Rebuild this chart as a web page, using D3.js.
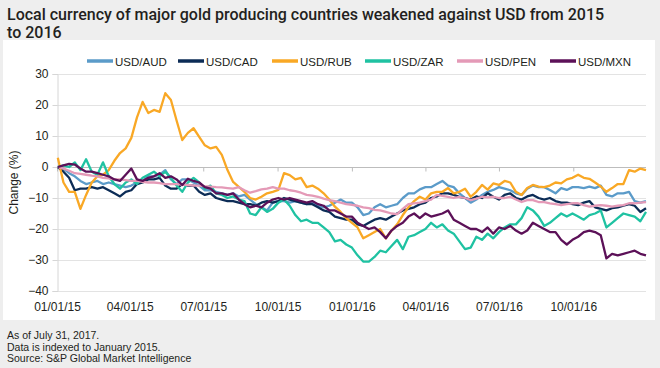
<!DOCTYPE html>
<html>
<head>
<meta charset="utf-8">
<script src="https://cdn.jsdelivr.net/npm/d3@7"></script>
<style>
  html, body { margin: 0; padding: 0; background: #eeeeee; }
  svg { display: block; }
</style>
</head>
<body>
<svg id="chart" width="660" height="368"></svg>
<script>
// ---------------- DATA ----------------
const title = ["Local currency of major gold producing countries weakened against USD from 2015", "to 2016"];
const yAxisTitle = "Change (%)";
const footnotes = ["As of July 31, 2017.", "Data is indexed to January 2015.", "Source: S&P Global Market Intelligence"];
const seriesNames = ["USD/AUD", "USD/CAD", "USD/RUB", "USD/ZAR", "USD/PEN", "USD/MXN"];
const seriesColors = ["#5b9bc9", "#0c2c56", "#f9a825", "#1fc2a2", "#e49ab7", "#5c1158"];
const yTicks = [30, 20, 10, 0, -10, -20, -30, -40];
const xTickDates = ["2015-01-01", "2015-04-01", "2015-07-01", "2015-10-01", "2016-01-01", "2016-04-01", "2016-07-01", "2016-10-01"];
const startDate = "2015-01-02";   // weekly observations
const endDate = "2016-12-30";

const usdAud = [0,-0.5,-2,-3,-4.5,-5.5,-5,-4.5,-5.5,-5,-5.5,-6,-6.5,-6,-5,-4.5,-3,-3,-2.5,-1,-4,-5.5,-4,-4,-5,-6,-7.5,-7.5,-8,-8.5,-9,-8.5,-9.5,-9,-10.5,-12,-13,-14,-11.5,-11,-11,-11.5,-11,-11.5,-12,-11.5,-12.5,-13,-12.5,-11.5,-10.5,-11.5,-11.5,-13,-15.5,-15,-13,-12,-13,-12.5,-12,-10,-8.5,-8.5,-7.2,-6.5,-6.5,-5.5,-4.5,-6,-6.5,-8.5,-10,-11.5,-10.5,-9,-8,-7.4,-6.5,-7,-7.5,-8.5,-9,-7,-6,-6.5,-6.5,-7.4,-8.5,-6.8,-7.4,-6.5,-6.5,-6.8,-6.3,-6.8,-6,-9,-9.5,-8.5,-8.5,-8,-11,-11.5,-11];
const usdCad = [0,-1.5,-3.5,-7.5,-7,-7,-6.5,-7,-6.5,-7.5,-8.5,-9.5,-8,-7.5,-5.5,-5,-4,-4,-3.5,-6,-7,-7,-5.5,-6,-6,-8,-9,-8.5,-10,-10.5,-11,-11,-11.5,-12,-12,-12.5,-11.5,-11,-11.5,-11,-10,-10.5,-11,-11.5,-12,-12,-13,-14,-14.5,-16,-16.5,-17,-17,-18.5,-19,-18,-17,-16.5,-17,-16,-15,-14,-13.5,-13,-12,-11.5,-10,-9.5,-8.5,-8.5,-9,-9.6,-10,-10.5,-9.5,-10,-8.5,-9.6,-10.5,-9,-8.5,-10,-10.5,-9.5,-9,-10,-10.5,-10,-11,-11.5,-11.5,-12,-12.3,-11.5,-11,-13,-13.5,-14,-13.3,-13,-12.5,-12,-12.5,-14.5,-13.3];
const usdRub = [3,-5,-8,-8,-13.5,-9,-5,-3,-2.5,-1,2,4.5,6,9.4,16,21,17.4,18.4,17.8,23.8,21.6,15,8.7,11,12.5,9.7,7,6,6.5,3.9,-1,-4.8,-6.4,-8,-10,-10.5,-9.6,-8.5,-8,-7.4,-2,-2.6,-4,-3.5,-6.5,-6,-7,-8.5,-10.5,-12.8,-14.5,-16.5,-18,-19.5,-23,-22,-21,-20,-23,-20.5,-18.5,-15.5,-13,-11,-9.6,-10.5,-8.5,-8,-8,-6.8,-8.5,-8,-7,-9.6,-8,-5.8,-7.3,-5.3,-5.8,-4.5,-5,-8,-9,-6.8,-5.8,-6.3,-6.5,-6,-5,-5.3,-4,-3.5,-2.5,-3.5,-3.8,-5,-6.3,-8,-6.8,-5.5,-5.5,-1,-1.5,-0.5,-1];
const usdZar = [0,0.5,0,1.5,-1,2.5,-1.5,-2.5,1.5,-3,-5.5,-7,-5,-4,-5.5,-3.5,-2.5,-1.5,-3,-1.5,-3.5,-6,-8,-5,-3.5,-5,-7,-6,-8.5,-9,-10,-9.5,-10.5,-11,-15,-15.5,-13,-14.5,-13.5,-11.5,-10.5,-12.5,-15.5,-17.5,-17,-18,-18,-19.5,-21,-24,-23.5,-25,-26,-28.5,-30.5,-30.5,-29,-27,-27.5,-25.5,-23.5,-26.5,-22.5,-22,-21,-20,-18,-19.5,-18.5,-20.5,-21.5,-24,-26.5,-26,-22.5,-23.5,-21.5,-23,-21,-19.5,-18.5,-18.5,-16.5,-13,-14,-16,-19,-18,-16.5,-15,-16,-15,-16,-17,-15.5,-15,-14,-19.5,-18,-16.5,-15,-15.5,-16,-17.5,-14.5];
const usdPen = [0,-0.5,-1.2,-2,-2.2,-2.5,-2.8,-3,-3.5,-3.7,-4,-4,-4.2,-4.5,-4.5,-4.8,-5,-5,-5.2,-5.5,-5.5,-5.5,-5.7,-5.8,-6,-6,-6.2,-6.3,-6.5,-6.6,-6.8,-7,-6.5,-7.5,-8.3,-7.8,-7.2,-7,-6.5,-7,-7,-7.5,-7.8,-8.3,-9,-9.2,-9.6,-10.2,-10.7,-11,-11.5,-12,-12.2,-12.5,-13,-13.3,-13.8,-14,-14.5,-15,-15.2,-13.5,-12,-11.7,-11.5,-11,-10.5,-9,-9.3,-9.6,-10,-9.6,-10,-10.7,-10.2,-9.6,-9.8,-9.6,-10,-10,-9.6,-10.5,-11.3,-10.7,-10.7,-11.3,-11.3,-11.7,-12,-12.3,-12,-11.7,-11.7,-12.3,-12.8,-12.5,-12.3,-12.5,-12.8,-12.5,-12.3,-11.7,-11.7,-11.5,-11.3];
const usdMxn = [0,0.5,1,0.8,-0.5,-1.5,-1.5,-2,-2.5,-3,-4,-4.5,-2.5,-0.5,-4,-4.5,-3.5,-3,-2,-3.5,-3,-4,-5.8,-3.8,-4.5,-5,-6.5,-7,-8.5,-8.5,-9,-8.5,-10.5,-12,-13,-12.5,-13,-11.5,-10.5,-10,-10.5,-10,-10.5,-11,-11.5,-11,-12,-12.5,-14,-14,-15,-16,-16,-18,-19,-20,-19.5,-21,-23,-20.5,-19,-18,-16,-15,-16.5,-15,-16,-15.5,-15,-14,-17,-18,-19,-20,-20,-21,-19.5,-21.5,-19.5,-20,-19,-20.5,-21.5,-20.5,-18,-19,-20,-21,-21,-23.5,-25,-23.5,-22.5,-21,-20.5,-21,-22,-29.5,-28,-28.5,-28,-27.5,-27,-28,-28.5];
const seriesValues = [usdAud, usdCad, usdRub, usdZar, usdPen, usdMxn];

// ---------------- CHART ----------------
const parse = d3.timeParse("%Y-%m-%d");
const start = parse(startDate);
const dates = usdAud.map((_, i) => d3.timeDay.offset(start, 7 * i));

const svg = d3.select("#chart");
const font = "'Liberation Sans', Arial, sans-serif";

svg.append("rect").attr("width", 660).attr("height", 368).attr("fill", "#eeeeee");
svg.append("rect").attr("x", 3).attr("y", 40).attr("width", 652).attr("height", 280).attr("fill", "#ffffff");

// title
svg.append("g").selectAll("text").data(title).join("text")
  .attr("x", 7).attr("y", (d, i) => 20 + i * 18)
  .attr("font-family", "Roboto, 'Liberation Sans', sans-serif")
  .attr("font-weight", 500)
  .attr("font-size", 16)
  .attr("fill", "#231f20")
  .text(d => d);

const x = d3.scaleTime().domain([parse("2015-01-01"), parse(endDate)]).range([57, 646]);
const y = d3.scaleLinear().domain([-40, 30]).range([291, 74]);

// grid lines
svg.append("g").selectAll("line").data(yTicks).join("line")
  .attr("x1", 57).attr("x2", 646)
  .attr("y1", d => Math.round(y(d)) + 0.5).attr("y2", d => Math.round(y(d)) + 0.5)
  .attr("stroke", d => d === 0 ? "#bdbdbd" : "#e3e3e3")
  .attr("stroke-width", 1);

// y axis
const yAxis = d3.axisLeft(y).tickValues(yTicks).tickSize(5).tickPadding(4);
const gy = svg.append("g").attr("transform", "translate(57.5,0)").call(yAxis);
gy.select(".domain").attr("stroke", "#d6d6d6");
gy.selectAll(".tick line").attr("stroke", "#d6d6d6");
gy.selectAll(".tick text").attr("font-family", font).attr("font-size", 12).attr("fill", "#231f20");

// x axis: ticks on zero line, labels at bottom
const xTicks = xTickDates.map(parse);
const xAxisTicks = d3.axisBottom(x).tickValues(xTicks).tickSize(4).tickFormat("");
const gx0 = svg.append("g").attr("transform", `translate(0,${Math.round(y(0)) + 0.5})`).call(xAxisTicks);
gx0.select(".domain").remove();
gx0.selectAll(".tick line").attr("stroke", "#bdbdbd");

const xAxis = d3.axisBottom(x).tickValues(xTicks).tickSize(0).tickPadding(11).tickFormat(d3.timeFormat("%m/%d/%y"));
const gx = svg.append("g").attr("transform", `translate(0,${y(-40)})`).call(xAxis);
gx.select(".domain").remove();
gx.selectAll(".tick text").attr("font-family", font).attr("font-size", 12).attr("fill", "#231f20");

// y axis title
svg.append("text")
  .attr("transform", `translate(18,${y(-5)}) rotate(-90)`)
  .attr("text-anchor", "middle")
  .attr("font-family", font).attr("font-size", 12).attr("fill", "#231f20")
  .text(yAxisTitle);

// lines
const line = d3.line().x((d, i) => x(dates[i])).y(d => y(d));
svg.append("g").selectAll("path").data(seriesValues).join("path")
  .attr("d", d => line(d))
  .attr("fill", "none")
  .attr("stroke", (d, i) => seriesColors[i])
  .attr("stroke-width", 2.3)
  .attr("stroke-linejoin", "round");

// legend
const legendX = [87, 178, 272, 365, 457, 550];
const lg = svg.append("g").selectAll("g").data(seriesNames).join("g")
  .attr("transform", (d, i) => `translate(${legendX[i]},61)`);
lg.append("line").attr("x1", 0).attr("x2", 26).attr("y1", 0).attr("y2", 0)
  .attr("stroke", (d, i) => seriesColors[i]).attr("stroke-width", 3.5);
lg.append("text").attr("x", 28).attr("y", 4.5)
  .attr("font-family", font).attr("font-size", 11.5).attr("fill", "#231f20")
  .text(d => d);

// footnotes
svg.append("g").selectAll("text").data(footnotes).join("text")
  .attr("x", 7).attr("y", (d, i) => 339 + i * 11.5)
  .attr("font-family", font).attr("font-size", 10.5).attr("fill", "#231f20")
  .text(d => d);
</script>
</body>
</html>
